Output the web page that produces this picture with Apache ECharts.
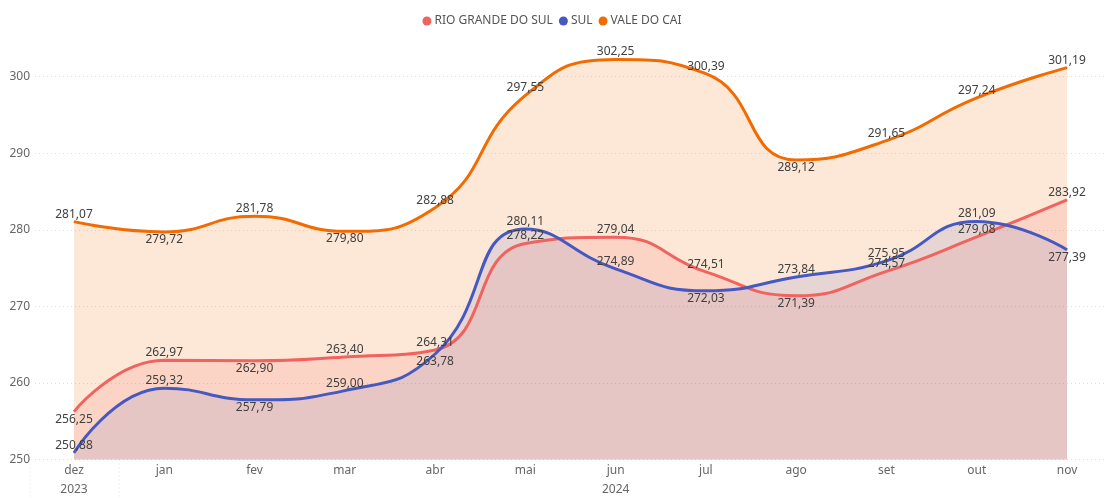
<!DOCTYPE html>
<html>
<head>
<meta charset="utf-8">
<script src="https://cdn.jsdelivr.net/npm/echarts@6/dist/echarts.min.js"></script>
<style>
  html, body { margin: 0; padding: 0; background: #fff; }
  #chart { width: 1104px; height: 498px; }
</style>
</head>
<body>
<div id="chart"></div>
<script>
// categorias (meses) e anos
var months = ["dez", "jan", "fev", "mar", "abr", "mai", "jun", "jul", "ago", "set", "out", "nov"];
var years = ["2023", "", "", "", "", "", "2024", "", "", "", "", ""];

// valores
var valeDoCai = [281.07, 279.72, 281.78, 279.80, 282.88, 297.55, 302.25, 300.39, 289.12, 291.65, 297.24, 301.19];
var rioGrande = [256.25, 262.97, 262.90, 263.40, 264.31, 278.22, 279.04, 274.51, 271.39, 274.57, 279.08, 283.92];
var sul = [250.88, 259.32, 257.79, 259.00, 263.78, 280.11, 274.89, 272.03, 273.84, 275.95, 281.09, 277.39];

// onde fica o rótulo de cada ponto
var posVale = ["top", "bottom", "top", "bottom", "top", "top", "top", "top", "bottom", "top", "top", "top"];
var posRio = ["bottom", "top", "bottom", "top", "top", "top", "top", "top", "bottom", "top", "top", "top"];
var posSul = ["top", "top", "bottom", "top", "bottom", "top", "top", "bottom", "top", "top", "top", "bottom"];

var yTicks = { min: 250, max: 300, interval: 10 };

var FONT = "Noto Sans";

function withLabels(values, positions) {
  return values.map(function (v, i) {
    return { value: v, label: { position: positions[i] } };
  });
}

function makeSeries(name, color, values, positions, areaOpacity) {
  return {
    name: name,
    type: "line",
    xAxisIndex: 0,
    yAxisIndex: 1,
    smooth: 0.5,
    clip: false,
    symbol: "circle",
    symbolSize: 1,
    showSymbol: true,
    itemStyle: { color: color },
    lineStyle: { color: color, width: 3 },
    areaStyle: { color: color, opacity: areaOpacity },
    label: {
      show: true,
      distance: 1,
      color: "#404040",
      fontSize: 12,
      fontFamily: FONT,
      formatter: function (p) {
        return p.value.toFixed(2).replace(".", ",");
      }
    },
    emphasis: { disabled: true },
    data: withLabels(values, positions)
  };
}

var myChart = echarts.init(document.getElementById("chart"));

myChart.setOption({
  animation: false,
  textStyle: { fontFamily: FONT },
  legend: {
    top: 10,
    left: "center",
    icon: "circle",
    itemWidth: 9,
    itemHeight: 9,
    itemGap: 6,
    textStyle: { color: "#555", fontSize: 12, fontFamily: FONT, padding: [0, 0, 0, -2] },
    data: ["RIO GRANDE DO SUL", "SUL", "VALE DO CAI"]
  },
  grid: [
    { left: 74, right: 37, top: 76.7, bottom: 38.5 },
    { left: 35, right: 0, top: 76.7, bottom: 38.5 }
  ],
  xAxis: [
    {
      type: "category",
      gridIndex: 0,
      data: months,
      boundaryGap: false,
      axisLine: { show: false },
      axisTick: { show: false },
      axisLabel: { color: "#666", fontSize: 12, fontFamily: FONT, margin: 5 }
    },
    {
      type: "category",
      gridIndex: 0,
      position: "bottom",
      offset: 19,
      data: years,
      boundaryGap: false,
      axisLine: { show: false },
      axisTick: { show: false },
      axisLabel: { color: "#666", fontSize: 12, fontFamily: FONT, margin: 5, interval: 0 }
    },
    { type: "value", gridIndex: 1, show: false }
  ],
  yAxis: [
    {
      type: "value",
      gridIndex: 1,
      min: yTicks.min,
      max: yTicks.max,
      interval: yTicks.interval,
      axisLine: { show: false },
      axisTick: { show: false },
      axisLabel: { color: "#666", fontSize: 12, fontFamily: FONT, margin: 5 },
      splitLine: { lineStyle: { color: "#dedede", type: [1, 3], width: 1 } }
    },
    {
      type: "value",
      gridIndex: 0,
      min: yTicks.min,
      max: yTicks.max,
      interval: yTicks.interval,
      show: false,
      splitLine: { show: false }
    }
  ],
  series: [
    makeSeries("VALE DO CAI", "#F26B00", valeDoCai, posVale, 0.16),
    makeSeries("RIO GRANDE DO SUL", "#F0635E", rioGrande, posRio, 0.15),
    makeSeries("SUL", "#4659C2", sul, posSul, 0.12)
  ]
});

// separadores pontilhados dos grupos de ano, abaixo do eixo
var x0 = myChart.convertToPixel({ xAxisIndex: 0 }, 0);
var x1 = myChart.convertToPixel({ xAxisIndex: 0 }, 1);
var yBase = myChart.convertToPixel({ yAxisIndex: 1 }, yTicks.min);
myChart.setOption({
  graphic: [30, (x0 + x1) / 2].map(function (x) {
    return {
      type: "line",
      shape: { x1: x, y1: yBase, x2: x, y2: 498 },
      style: { stroke: "#dedede", lineDash: [1, 3], lineWidth: 1 },
      silent: true
    };
  })
});

window.onresize = function () {
  myChart.resize();
};
</script>
</body>
</html>
